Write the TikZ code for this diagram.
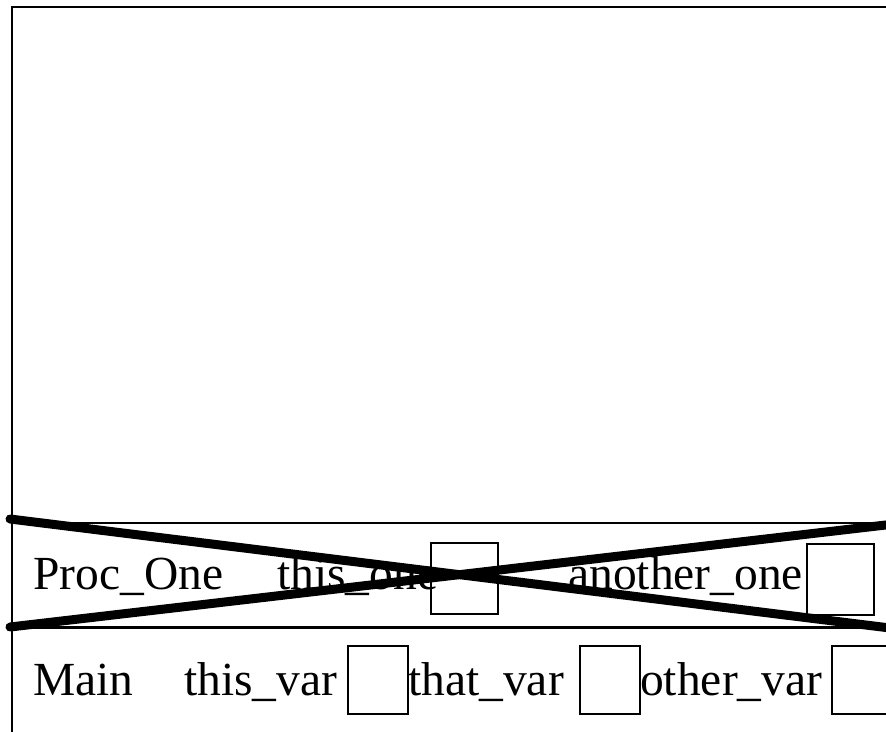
\documentclass[tikz,border=0pt]{standalone}
\usepackage{fontspec}
\setmainfont{Liberation Serif}
\usetikzlibrary{positioning}

\begin{document}
\begin{tikzpicture}[x=1pt, y=-1pt,
    frameline/.style={line width=2.6pt},
    varname/.style={anchor=base west, inner sep=0pt, font=\fontsize{47.5}{50}\selectfont},
    slotbox/.style={draw, line width=2pt, anchor=north west, inner sep=0pt, minimum width=60pt, minimum height=68pt},
    wide slot/.style={slotbox, minimum width=67pt, minimum height=71pt},
    crossout/.style={line width=9pt, line cap=round}]
  \useasboundingbox (0,0) rectangle (886,731);
  \clip (0,0) rectangle (886,731);
  % outer frame
  \draw[frameline] (12,7) rectangle (900,760);
  % frame of Proc_One
  \draw[line width=2pt] (12,523) -- (900,523);
  \draw[line width=3pt] (12,627) -- (900,627);
  \node[varname] (proc) at (33,589) {Proc\_One};
  \node[varname] (thisone) at (277,589) {this\_one};
  \node[wide slot] (thisonebox) at (430,542) {};
  \node[varname] (anotherone) at (568,589) {another\_one};
  \node[wide slot] (anotheronebox) at (806,543) {};
  % frame of Main
  \node[varname] (main) at (33,695) {Main};
  \node[varname] (thisvar) at (184,695) {this\_var};
  \node[slotbox] (thisvarbox) at (347,645) {};
  \node[varname] (thatvar) at (408,695) {that\_var};
  \node[slotbox] (thatvarbox) at (579,645) {};
  \node[varname] (othervar) at (640,695) {other\_var};
  \node[slotbox] (othervarbox) at (831,645) {};
  % popped frame
  \coordinate (ul) at (10,519);
  \coordinate (ll) at (10,627);
  \coordinate (ur) at (890,524.5);
  \coordinate (lr) at (890,628);
  \draw[crossout] (ul) -- (lr);
  \draw[crossout] (ll) -- (ur);
\end{tikzpicture}
\end{document}
